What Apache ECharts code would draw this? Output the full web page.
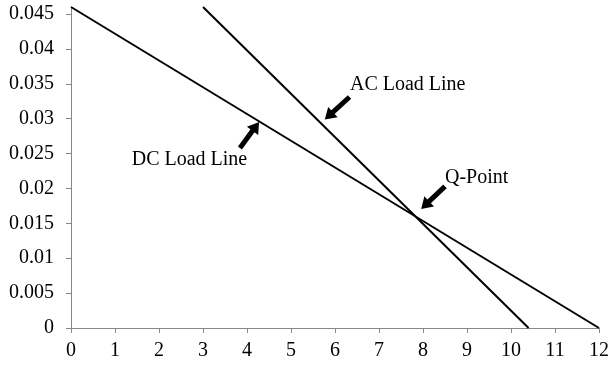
<!DOCTYPE html>
<html>
<head>
<meta charset="utf-8">
<script src="https://cdn.jsdelivr.net/npm/echarts@6/dist/echarts.min.js"></script>
<style>
  html, body { margin: 0; padding: 0; background: #fff; }
  #chart { width: 612px; height: 372px; }
</style>
</head>
<body>
<div id="chart"></div>
<script>
// load lines (Vce, Ic)
const dcLine = [[0, 0.046], [12, 0]];
const acLine = [[3.0, 0.046], [10.4, 0]];

// tick values
const xTicks = [0, 1, 2, 3, 4, 5, 6, 7, 8, 9, 10, 11, 12];
const yTicks = [0, 0.005, 0.01, 0.015, 0.02, 0.025, 0.03, 0.035, 0.04, 0.045];

// annotation labels: [x, y, text]
const labels = [
  [6.34, 0.0349, 'AC Load Line'],
  [1.38, 0.0241, 'DC Load Line'],
  [8.5, 0.0215, 'Q-Point']
];
// arrows: [tail, head]
const arrows = [
  [[6.33, 0.0331], [5.86, 0.0304]],
  [[3.84, 0.0258], [4.20, 0.0289]],
  [[8.50, 0.0203], [8.05, 0.0176]]
];

const font = '"Liberation Serif", "Times New Roman", serif';
const chart = echarts.init(document.getElementById('chart'));

const options = {
  animation: false,
  grid: { left: 71, right: 13, top: 7, bottom: 44 },
  xAxis: {
    type: 'value',
    min: 0,
    max: 12,
    interval: 1,
    splitLine: { show: false },
    axisLine: { lineStyle: { color: '#888', width: 1 } },
    axisTick: { length: 5, lineStyle: { color: '#888' } },
    axisLabel: { color: '#000', fontFamily: font, fontSize: 20, margin: 13 }
  },
  yAxis: {
    type: 'value',
    min: 0,
    max: 0.046,
    splitLine: { show: false },
    axisLine: { show: true, lineStyle: { color: '#888', width: 1 } },
    axisTick: { show: true, length: 5, lineStyle: { color: '#888' }, customValues: yTicks },
    axisLabel: {
      color: '#000', fontFamily: font, fontSize: 20, margin: 17,
      customValues: yTicks,
      formatter: v => String(+v.toFixed(3))
    }
  },
  series: [
    {
      type: 'line',
      data: dcLine,
      showSymbol: false,
      lineStyle: { color: '#000', width: 2 },
      markLine: {
        silent: true,
        symbol: ['none', 'triangle'],
        symbolSize: [14, 11],
        label: { show: false },
        lineStyle: { color: '#000', width: 5, type: 'solid' },
        data: arrows.map(a => [{ coord: a[0] }, { coord: a[1] }])
      },
      markPoint: {
        silent: true,
        symbol: 'circle',
        symbolSize: 0,
        label: {
          show: true,
          position: 'right',
          distance: 0,
          color: '#000',
          fontFamily: font,
          fontSize: 20,
          formatter: p => p.name
        },
        data: labels.map(l => ({ coord: [l[0], l[1]], name: l[2] }))
      }
    },
    {
      type: 'line',
      data: acLine,
      showSymbol: false,
      lineStyle: { color: '#000', width: 2 }
    }
  ]
};

chart.setOption(options, true);
</script>
</body>
</html>
